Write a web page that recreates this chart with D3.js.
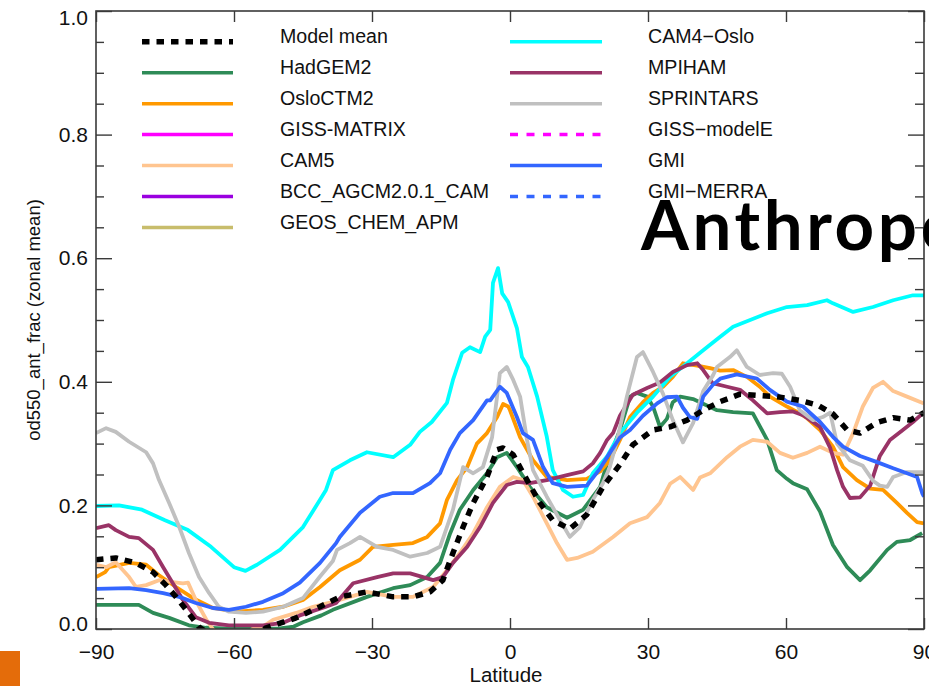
<!DOCTYPE html>
<html>
<head>
<meta charset="utf-8">
<script src="https://cdn.jsdelivr.net/npm/d3@7"></script>
<style>
  html, body { margin: 0; padding: 0; background: #fff; overflow: hidden; }
  svg { display: block; }
</style>
</head>
<body>
<div id="chart"></div>
<script>
// zonal mean of od550_ant_frac, [latitude, value]
const modelMean = [[-90,.112],[-85.7,.115],[-81.3,.107],[-77.6,.092],[-74.8,.071],[-72.6,.052],[-70.4,.031],[-67.6,.003],[-65,-.01],[-60,-.02],[-55,-.01],[-53,.002],[-46.5,.018],[-41.3,.036],[-37,.052],[-31.1,.06],[-25.4,.052],[-21.1,.052],[-17.4,.06],[-14.6,.079],[-12.4,.123],[-10.2,.165],[-8,.204],[-5,.246],[-2.8,.29],[-1.5,.293],[.7,.282],[3.7,.241],[6.5,.204],[9.3,.176],[13,.162],[16.7,.185],[20.2,.23],[23.9,.266],[26.7,.298],[31.1,.322],[34.8,.327],[38.5,.338],[42,.354],[45.7,.368],[50,.38],[53.7,.378],[58,.376],[63,.37],[67,.362],[70.2,.348],[73.3,.322],[76.1,.317],[79.8,.334],[83.3,.342],[87,.338],[90,.35]];
const hadgem2 = [[-90,.039],[-80.7,.039],[-77.6,.026],[-74.1,.018],[-69.8,.006],[-66.1,.002],[-60,0],[-55,0],[-50,.001],[-47,.004],[-45,.011],[-41,.022],[-38.5,.031],[-31.1,.052],[-25.4,.066],[-21.7,.071],[-18,.084],[-15.2,.107],[-13,.155],[-10.9,.193],[-8,.225],[-5,.252],[-2.8,.278],[-.7,.285],[1.5,.262],[4.3,.23],[8,.197],[12.4,.18],[15.9,.193],[19.6,.23],[21.1,.268],[23.9,.322],[26.1,.376],[27.6,.382],[29.8,.376],[31.1,.36],[32.6,.327],[34.1,.34],[35.4,.367],[37,.376],[39.8,.372],[41.3,.367],[45,.354],[48.5,.351],[52.8,.349],[55.9,.306],[58,.257],[60.2,.243],[61.5,.236],[64.6,.226],[67.4,.19],[70.2,.136],[73.3,.1],[76.1,.079],[78.3,.095],[82,.128],[84.1,.141],[87,.144],[89.6,.155]];
const osloCtm2 = [[-90,.084],[-88,.092],[-87.2,.1],[-82.8,.107],[-79.1,.104],[-76.3,.087],[-72.6,.068],[-68.9,.05],[-64.6,.034],[-59.6,.028],[-53.7,.031],[-49.3,.036],[-45,.047],[-41.3,.068],[-37,.095],[-32.6,.112],[-29.8,.133],[-25.4,.136],[-21.1,.139],[-18,.149],[-15.2,.171],[-13.7,.209],[-11.5,.241],[-9.3,.262],[-7.2,.3],[-5,.317],[-2.8,.343],[-1.5,.364],[-.4,.36],[0,.354],[2.2,.31],[5,.273],[8,.246],[12.4,.241],[16.7,.243],[19.6,.255],[21.7,.273],[23.9,.306],[26.1,.343],[28.9,.367],[31.1,.382],[33.3,.392],[35.4,.408],[37.6,.43],[40.7,.426],[43.5,.422],[45.7,.418],[48.5,.419],[51.5,.408],[54.3,.392],[56.5,.376],[60.2,.36],[63,.349],[64.6,.341],[67.4,.322],[70.2,.295],[72.4,.262],[75.4,.241],[78.3,.227],[81.1,.225],[84.1,.204],[86.3,.188],[88.5,.173],[90,.171]];
const gissMatrix = [];
const cam5 = [[-90,.104],[-87.8,.1],[-85.7,.108],[-82.8,.084],[-81.3,.068],[-79.1,.071],[-76.3,.079],[-73.3,.076],[-71.1,.074],[-70,.075],[-68,.042],[-66,.015],[-64.6,0],[-62,-.02],[-58,-.02],[-56,0],[-53.7,.004],[-51.5,.015],[-46.5,.026],[-42.8,.036],[-38.5,.044],[-31.1,.06],[-25.4,.052],[-21.1,.052],[-16.7,.068],[-13.7,.095],[-10.9,.123],[-8,.155],[-5,.197],[-2.2,.23],[.7,.246],[2.8,.241],[5,.214],[8,.171],[10.2,.139],[12.4,.112],[14.6,.115],[18,.125],[22.4,.149],[26.1,.171],[29.8,.181],[32.6,.204],[34.8,.235],[37,.246],[39.8,.225],[41.3,.245],[43.5,.252],[47.2,.278],[50,.295],[52.8,.306],[55.9,.303],[58.7,.285],[61.5,.277],[64.6,.285],[67.4,.295],[70.2,.285],[72.4,.282],[74.6,.317],[76.7,.36],[78.9,.39],[81.1,.4],[83.3,.385],[86.3,.376],[90,.365]];
const bccAgcm = [];
const geosChemApm = [];
const cam4Oslo = [[-90,.199],[-85,.2],[-80,.193],[-75,.176],[-70,.16],[-65,.133],[-60,.1],[-57.5,.094],[-55,.104],[-50,.128],[-45,.165],[-41.3,.209],[-40,.225],[-38.5,.257],[-34.8,.273],[-31.1,.286],[-25.4,.278],[-21.7,.298],[-19.6,.319],[-17,.335],[-13.7,.366],[-12.4,.403],[-10.4,.447],[-8.7,.456],[-6.5,.448],[-5.4,.473],[-4.3,.484],[-3.7,.56],[-2.6,.584],[-1.7,.543],[-.4,.529],[1.5,.487],[2.6,.44],[3.9,.424],[5.9,.376],[8,.311],[9.3,.257],[11.5,.225],[13.7,.214],[15.9,.217],[18,.252],[21.1,.279],[23.9,.317],[27.6,.35],[31.1,.376],[34.8,.408],[38.5,.43],[42,.451],[45.7,.473],[48.5,.489],[55.9,.511],[60.2,.521],[64.6,.524],[68.9,.532],[70.2,.527],[74.6,.513],[78.9,.521],[83.3,.532],[87.6,.54],[90,.54]];
const mpiham = [[-90,.163],[-87.2,.168],[-85.7,.16],[-82.8,.149],[-80.7,.147],[-77.6,.128],[-75.4,.1],[-73.3,.074],[-71.1,.047],[-68.3,.019],[-65.4,.01],[-61.1,.006],[-53.7,.006],[-49.3,.01],[-45.7,.022],[-40,.036],[-37.8,.042],[-34.1,.074],[-28.9,.084],[-25.4,.09],[-21.7,.09],[-16.7,.079],[-14.6,.084],[-12.4,.107],[-9.3,.133],[-6.5,.165],[-3.7,.204],[-.7,.233],[1.5,.238],[4.3,.236],[8,.241],[12.4,.249],[15.9,.255],[18,.268],[19.6,.285],[21.1,.306],[22.4,.317],[23.9,.345],[26.7,.379],[29.8,.39],[32.6,.399],[35.4,.416],[38.5,.427],[40.7,.43],[42,.419],[44,.398],[47.2,.392],[50,.387],[52.8,.37],[55.9,.349],[58.7,.351],[61.5,.352],[63.7,.346],[67.4,.327],[69.6,.293],[71.1,.257],[72.4,.23],[73.9,.212],[76.1,.213],[78.3,.232],[80.4,.28],[82.6,.306],[85.4,.322],[87.6,.335],[89.6,.348]];
const sprintars = [[-90,.317],[-87.8,.325],[-85.7,.319],[-82.8,.303],[-79.1,.286],[-77.6,.268],[-76.3,.241],[-74.1,.204],[-71.9,.165],[-69.8,.123],[-67.6,.084],[-65.4,.058],[-63.3,.036],[-61.1,.028],[-57.4,.026],[-53.7,.028],[-49.3,.036],[-45,.05],[-41.3,.085],[-38.5,.11],[-37.6,.128],[-34.8,.139],[-32.6,.149],[-28.9,.133],[-25.4,.128],[-21.7,.117],[-18,.123],[-15.2,.133],[-12.4,.193],[-10.2,.262],[-8,.252],[-5.9,.262],[-3.9,.31],[-2.2,.414],[-.7,.424],[.7,.403],[2.2,.376],[3.7,.306],[5,.257],[8,.214],[10.9,.176],[13,.149],[15.2,.165],[18,.209],[20.2,.236],[21.7,.262],[23.3,.306],[25.4,.376],[27.6,.44],[28.9,.448],[31.1,.416],[33.3,.38],[35.4,.338],[37.6,.302],[39.8,.333],[42,.385],[44.1,.41],[45,.424],[47.8,.44],[49.3,.451],[51.5,.424],[54.3,.411],[57.2,.414],[59.1,.413],[60.9,.392],[63,.354],[65.9,.338],[68,.343],[69.6,.35],[71.1,.3],[73.9,.273],[76.7,.264],[78.9,.24],[80.4,.232],[82,.23],[83.3,.246],[86.3,.254],[90,.254]];
const gissModelE = [];
const gmi = [[-90,.065],[-82.8,.066],[-79.1,.063],[-75.4,.058],[-71.9,.052],[-68.3,.042],[-64.6,.034],[-61.1,.031],[-57.4,.036],[-53.7,.044],[-49.3,.058],[-45.7,.075],[-41.3,.107],[-37.8,.139],[-37,.149],[-32.6,.188],[-28.3,.214],[-25.4,.22],[-21.1,.22],[-17.4,.236],[-15.2,.252],[-13,.29],[-10.9,.317],[-8,.338],[-5,.37],[-4.3,.37],[-2.2,.392],[-.7,.382],[1.5,.343],[2.8,.317],[5,.306],[7.2,.262],[9.3,.236],[12.4,.23],[16.7,.232],[19.6,.26],[21.7,.285],[23.9,.31],[26.1,.322],[28.9,.345],[32,.365],[34.1,.375],[36.3,.376],[37.6,.358],[39.1,.343],[40.7,.34],[42,.376],[44.1,.395],[45.7,.405],[49.3,.412],[53.7,.405],[56.5,.387],[60.2,.368],[63.7,.36],[67.4,.335],[70.2,.311],[72.4,.295],[76.1,.28],[79.8,.27],[83.3,.26],[86.3,.252],[88.5,.246],[89.6,.22],[90,.214]];
const gmiMerra = [];

const xTicks = [-90, -60, -30, 0, 30, 60, 90];
const yTicks = [0, 0.2, 0.4, 0.6, 0.8, 1.0];
const yMinor = d3.range(0.05, 1, 0.05).filter((v) => Math.abs(v * 5 - Math.round(v * 5)) > 1e-6);

// legend order: two columns
const models = [
  { name: "Model mean", data: modelMean, color: "#000", dash: "7.5 7", width: 5.5, col: 0 },
  { name: "HadGEM2", data: hadgem2, color: "#2e8b57", col: 0 },
  { name: "OsloCTM2", data: osloCtm2, color: "#ff9900", col: 0 },
  { name: "GISS-MATRIX", data: gissMatrix, color: "#ff00ff", col: 0 },
  { name: "CAM5", data: cam5, color: "#ffc590", col: 0 },
  { name: "BCC_AGCM2.0.1_CAM", data: bccAgcm, color: "#9a00e0", col: 0 },
  { name: "GEOS_CHEM_APM", data: geosChemApm, color: "#c8bd6c", col: 0 },
  { name: "CAM4\u2212Oslo", data: cam4Oslo, color: "#00ffff", col: 1 },
  { name: "MPIHAM", data: mpiham, color: "#993366", col: 1 },
  { name: "SPRINTARS", data: sprintars, color: "#c0c0c0", col: 1 },
  { name: "GISS\u2212modelE", data: gissModelE, color: "#ff00ff", dash: "8 8.5", col: 1 },
  { name: "GMI", data: gmi, color: "#3366ff", col: 1 },
  { name: "GMI\u2212MERRA", data: gmiMerra, color: "#3366ff", dash: "8 8.5", col: 1 },
];

const width = 929, height = 686;
const margin = { top: 11, right: 5, bottom: 57, left: 96 };
const fontFam = "'Liberation Sans', Arial, Helvetica, sans-serif";

const svg = d3.select("#chart").append("svg")
  .attr("width", width)
  .attr("height", height);

const x = d3.scaleLinear().domain([-90, 90]).range([margin.left, width - margin.right]);
const y = d3.scaleLinear().domain([0, 1]).range([height - margin.bottom, margin.top]);

svg.append("defs").append("clipPath").attr("id", "plot-clip")
  .append("rect")
  .attr("x", x(-90)).attr("y", y(1))
  .attr("width", x(90) - x(-90)).attr("height", y(0) - y(1));

// 曲线，模式平均画在最上面
const line = d3.line().x((d) => x(d[0])).y((d) => y(d[1]));
const drawOrder = models.slice(1).concat([models[0]]);
svg.append("g")
  .attr("class", "lines")
  .attr("clip-path", "url(#plot-clip)")
  .selectAll("path")
  .data(drawOrder.filter((m) => m.data.length))
  .join("path")
  .attr("d", (m) => line(m.data))
  .attr("fill", "none")
  .attr("stroke", (m) => m.color)
  .attr("stroke-width", (m) => m.width || 3.8)
  .attr("stroke-dasharray", (m) => m.dash || null)
  .attr("stroke-linejoin", "round");

// axes
const axisColor = "#3a3a3a";
const styleAxis = (g) => {
  g.select(".domain").remove();
  g.selectAll("line").attr("stroke", axisColor).attr("stroke-width", 1.4);
  g.selectAll("text").attr("fill", "#111").attr("font-size", 21).attr("font-family", fontFam);
};

svg.append("g")
  .attr("transform", `translate(0,${y(0)})`)
  .call(d3.axisBottom(x).tickValues(xTicks).tickSize(-11).tickPadding(15).tickFormat(d3.format("d")))
  .call(styleAxis);

svg.append("g")
  .attr("transform", `translate(0,${y(1)})`)
  .call(d3.axisTop(x).tickValues(xTicks).tickSize(-11).tickFormat(""))
  .call(styleAxis);

svg.append("g")
  .attr("transform", `translate(${x(-90)},0)`)
  .call(d3.axisLeft(y).tickValues(yTicks).tickSize(-16).tickPadding(8).tickFormat(d3.format(".1f")))
  .call(styleAxis)
  .call((g) => {
    // end labels sit a little inside
    g.selectAll(".tick text")
      .attr("dy", (d) => (d === 0 ? "0.05em" : d === 1 ? "0.62em" : "0.32em"));
  });

svg.append("g")
  .attr("transform", `translate(${x(-90)},0)`)
  .call(d3.axisLeft(y).tickValues(yMinor).tickSize(-8).tickFormat(""))
  .call(styleAxis);

svg.append("g")
  .attr("transform", `translate(${x(90)},0)`)
  .call(d3.axisRight(y).tickValues(yTicks).tickSize(-16).tickFormat(""))
  .call(styleAxis);

svg.append("g")
  .attr("transform", `translate(${x(90)},0)`)
  .call(d3.axisRight(y).tickValues(yMinor).tickSize(-9).tickFormat(""))
  .call(styleAxis);

// frame
svg.append("rect")
  .attr("x", x(-90)).attr("y", y(1))
  .attr("width", x(90) - x(-90)).attr("height", y(0) - y(1))
  .attr("fill", "none")
  .attr("stroke", axisColor)
  .attr("stroke-width", 1.6);

// axis titles
svg.append("text")
  .attr("x", (x(-90) + x(90)) / 2 - 4)
  .attr("y", 682)
  .attr("text-anchor", "middle")
  .attr("font-size", 20.5)
  .attr("font-family", fontFam)
  .attr("fill", "#111")
  .text("Latitude");

svg.append("text")
  .attr("transform", "translate(40,320) rotate(-90)")
  .attr("text-anchor", "middle")
  .attr("font-size", 18.5)
  .attr("font-family", fontFam)
  .attr("fill", "#111")
  .text("od550_ant_frac (zonal mean)");

// legend
const legendRow = 30.97;
const legendCols = [{ x0: 142, x1: 233, tx: 280 }, { x0: 510, x1: 602, tx: 648 }];
svg.append("g")
  .attr("class", "legend")
  .selectAll("g")
  .data(models)
  .join("g")
  .attr("transform", (m) => {
    const i = models.filter((k) => k.col === m.col).indexOf(m);
    return `translate(0,${41.7 + i * legendRow})`;
  })
  .call((g) => {
    g.append("line")
      .attr("x1", (m) => legendCols[m.col].x0)
      .attr("x2", (m) => legendCols[m.col].x1)
      .attr("stroke", (m) => m.color)
      .attr("stroke-width", (m) => m.width || 3.5)
      .attr("stroke-dasharray", (m) => m.dash || null);
    g.append("text")
      .attr("x", (m) => legendCols[m.col].tx)
      .attr("y", 1)
      .attr("font-size", 19.6)
      .attr("font-family", fontFam)
      .attr("fill", "#111")
      .text((m) => m.name);
  });

// slide overlay
svg.append("text")
  .attr("x", 641)
  .attr("y", 250)
  .attr("font-size", 69)
  .attr("font-weight", "bold")
  .attr("letter-spacing", 3.6)
  .attr("font-family", "Lato, 'Open Sans', sans-serif")
  .attr("fill", "#000")
  .text("Anthropogenic");

svg.append("rect")
  .attr("x", 0).attr("y", 651)
  .attr("width", 20).attr("height", 35)
  .attr("fill", "#e46c0a");
</script>
</body>
</html>
